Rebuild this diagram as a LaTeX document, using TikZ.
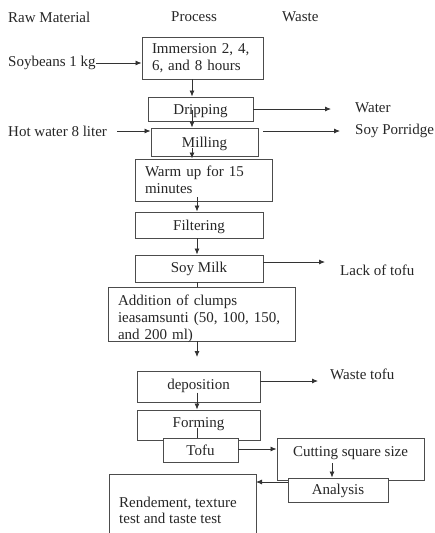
\documentclass[tikz,border=0pt]{standalone}
\usepackage{fontspec}
\setmainfont{Liberation Serif}
\usetikzlibrary{shapes,arrows,arrows.meta}
\usetikzlibrary{positioning}

\begin{document}
\begin{tikzpicture}[x=1pt,y=-1pt,
    every node/.style={font=\fontsize{15}{17}\selectfont, text=black!85},
    box/.style={draw=black!70, line width=0.9pt, fill=white, inner sep=0pt},
    cbox/.style={box, text height=12pt, text depth=2pt},
    lbox/.style={box, align=left, inner xsep=10pt},
    txt/.style={inner sep=0pt, anchor=west},
    arr/.style={draw=black!80, line width=0.8pt, -{Latex[length=6pt,width=5pt]}},
    ln/.style={draw=black!80, line width=0.8pt}]
    \useasboundingbox (0,0) rectangle (435,533);
    % column heads
    \node[txt] (hraw) at (8,17) {Raw Material};
    \node[txt] (hproc) at (171,17) {Process};
    \node[txt] (hwaste) at (282,17) {Waste};
    % raw materials and waste
    \node[txt] (soy) at (8,63) {Soybeans 1 kg};
    \node[txt] (hot) at (8,131) {Hot water 8 liter};
    \node[txt] (water) at (355,108) {Water};
    \node[txt] (porr) at (355,131) {Soy Porridge};
    \node[txt] (lack) at (340,270) {Lack of tofu};
    \node[txt] (wtofu) at (330,374) {Waste tofu};
    % process boxes
    \node[lbox, minimum height=42pt, text width=101pt] (imm) at (202.5,58)
        {Immersion 2, 4,\\6, and 8 hours};
    \node[cbox, minimum width=105pt, minimum height=24pt] (drip) at (200.5,109) {Dripping};
    \node[cbox, minimum width=107pt, minimum height=28pt] (mill) at (204.5,142) {Milling};
    \node[lbox, minimum height=42pt, text width=117pt] (warm) at (203.5,180)
        {Warm up for 15\\minutes};
    \node[cbox, minimum width=128pt, minimum height=26pt] (filt) at (199,225) {Filtering};
    \node[cbox, minimum width=128pt, minimum height=27pt, text depth=5pt] (milk) at (199,268.5) {Soy Milk};
    \node[lbox, minimum height=54pt, text width=167pt, text depth=28pt] (add) at (201.5,314)
        {Addition of clumps\\ieasamsunti (50, 100, 150,\\and 200 ml)};
    \node[cbox, minimum width=123pt, minimum height=31pt, text depth=6pt] (depo) at (198.5,386.5) {deposition};
    \node[cbox, minimum width=123pt, minimum height=30pt, text depth=8pt] (form) at (198.5,425) {Forming};
    \node[cbox, minimum width=75pt, minimum height=24pt] (tofu) at (200.5,450) {Tofu};
    \node[cbox, minimum width=147pt, minimum height=42pt, text depth=18pt] (cut) at (350.5,459) {Cutting square size};
    \node[cbox, minimum width=100pt, minimum height=24pt, text depth=3pt] (ana) at (338,490) {Analysis};
    \draw[draw=black!70, line width=0.9pt] (109,540) -- (109,474) -- (256,474) -- (256,540);
    \node[inner sep=0pt, anchor=base west, align=left, font=\fontsize{15}{16}\selectfont] (rend) at (119,523)
        {Rendement, texture\\test and taste test};
    \coordinate (rendE) at (256,482);
    % free ends
    \coordinate (lackend) at (325,262);
    \coordinate (addend) at (197,357);
    \coordinate (wtofuend) at (318,381);
    % connectors
    \draw[arr] (soy.east) -- (soy.east -| imm.west);
    \draw[arr] ([xshift=-10.5pt]imm.south) -- ([xshift=-10.5pt]imm.south |- drip.north);
    \draw[arr] ([xshift=-8.5pt,yshift=-1pt]drip.center) -- ([xshift=-8.5pt]drip.center |- mill.north);
    \draw[arr] (drip.east) -- ([xshift=-24pt]water.west |- drip.east);
    \draw[arr] ([xshift=10pt]hot.east) -- (hot.east -| mill.west);
    \draw[arr] ([xshift=5pt]mill.east |- porr.west) -- ([xshift=-15pt]porr.west);
    \draw[arr] ([xshift=-12.5pt,yshift=-6pt]mill.center) -- ([xshift=-12.5pt]mill.center |- warm.north);
    \draw[arr] ([xshift=-6.5pt,yshift=-17pt]warm.center) -- ([xshift=-6.5pt]warm.center |- filt.north);
    \draw[arr] ([xshift=-2pt]filt.south) -- ([xshift=-2pt]filt.south |- milk.north);
    \draw[arr] ([yshift=6.5pt]milk.east) -- (lackend);
    \draw[ln] ([xshift=-2pt]milk.south) -- ([xshift=-2pt]milk.south |- add.north);
    \draw[arr] ([xshift=-4.5pt]add.south) -- (addend);
    \draw[arr] (depo.east |- wtofuend) -- (wtofuend);
    \draw[arr] ([xshift=-1.5pt,yshift=-6pt]depo.center) -- ([xshift=-1.5pt]depo.center |- form.north);
    \draw[ln] ([xshift=-1.5pt,yshift=-3pt]form.center) -- ([xshift=-1.5pt]form.center |- tofu.north);
    \draw[arr] ([yshift=1pt]tofu.east) -- ([yshift=1pt]tofu.east -| cut.west);
    \draw[arr] ([xshift=-18.5pt,yshift=-4pt]cut.center) -- ([xshift=-18.5pt]cut.center |- ana.north);
    \draw[arr] (ana.west |- rendE) -- (rendE);
\end{tikzpicture}
\end{document}
